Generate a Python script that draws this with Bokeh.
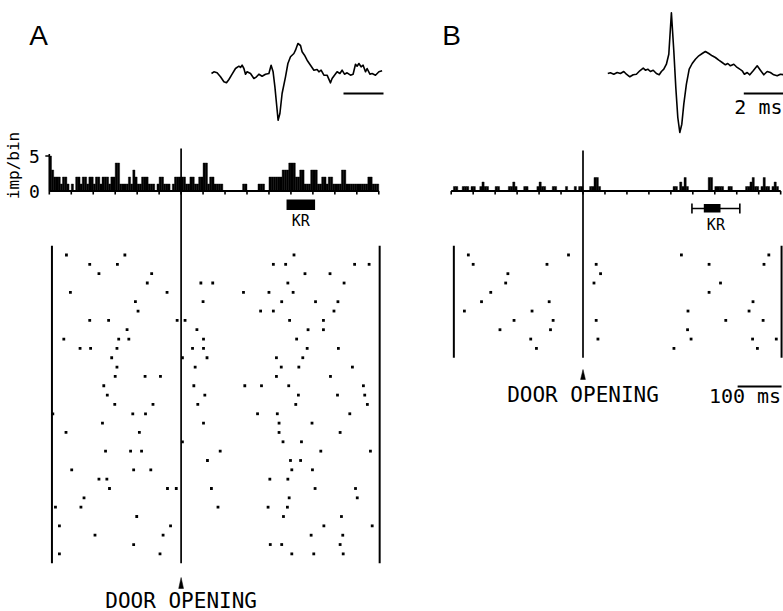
import numpy as np
from bokeh.plotting import figure
from bokeh.models import Range1d
from bokeh.core.properties import value
from bokeh.embed import file_html
from bokeh.resources import INLINE

# ----------------------------- data -----------------------------
BIN_MS = 5
T_START, T_END = -300, 450                 # PSTH window (ms from door opening)
TICKS_MS = list(range(-300, 451, 50))
PSTH_YTICKS = [0, 5]
PSTH_YTICK_LABELS = ["0", "5"]

# impulses per 5-ms bin, panel A
PSTH_A = [5, 3, 2, 2, 2, 1, 2, 2, 1, 0, 1, 0, 2, 2, 1, 2, 2, 1, 2, 2,
          1, 2, 2, 1, 2, 2, 2, 1, 2, 2, 4, 4, 1, 1, 1, 1, 2, 1, 3, 2,
          1, 1, 2, 2, 2, 1, 1, 1, 0, 1, 2, 2, 1, 1, 1, 0, 1, 2, 2, 2,
          2, 2, 1, 1, 2, 2, 1, 1, 2, 2, 4, 4, 1, 2, 2, 1, 1, 1, 1, 0,
          0, 0, 0, 0, 0, 0, 0, 0, 1, 1, 0, 0, 0, 0, 0, 1, 1, 1, 0, 0,
          2, 2, 2, 2, 2, 2, 3, 3, 3, 4, 4, 4, 2, 2, 3, 3, 1, 1, 1, 3,
          3, 3, 1, 1, 2, 2, 1, 2, 2, 1, 1, 1, 1, 3, 3, 1, 1, 1, 1, 1,
          1, 1, 1, 1, 1, 2, 2, 1, 1, 1]
# impulses per 5-ms bin, panel B
PSTH_B = [0, 1, 1, 0, 0, 1, 1, 1, 0, 1, 1, 0, 0, 1, 2, 1, 1, 0, 0, 0,
          1, 1, 0, 0, 0, 0, 1, 1, 2, 1, 0, 0, 0, 1, 1, 0, 0, 0, 0, 1,
          2, 1, 1, 0, 0, 0, 1, 1, 0, 0, 0, 0, 1, 0, 0, 0, 1, 0, 1, 1,
          0, 0, 0, 1, 1, 3, 3, 1, 0, 0, 0, 0, 0, 0, 0, 0, 0, 0, 0, 0,
          0, 0, 0, 0, 0, 0, 0, 0, 0, 0, 0, 0, 0, 0, 0, 0, 0, 0, 0, 0,
          0, 1, 1, 0, 2, 1, 3, 1, 0, 0, 0, 0, 0, 0, 0, 0, 0, 3, 3, 0,
          1, 1, 1, 1, 0, 0, 1, 1, 0, 0, 0, 0, 0, 0, 1, 1, 2, 3, 1, 1,
          0, 1, 3, 1, 1, 0, 1, 2, 1, 0]

# spike times (ms from door opening), one list per trial
RASTER_A = [
    [-261, -128, 257],
    [-208, -145, 210, 238, 395, 428],
    [-187, -67, 282, 339],
    [-77, 45, 72, 243, 371],
    [-252, -32, 142, 200, 255],
    [-104, 50, 229, 306, 357],
    [-98, 181, 210, 348],
    [-208, -165, -9, 9, 247, 324],
    [-123, 36, 289, 324],
    [-267, -142, -119, 51, 263],
    [-230, -206, -146, 26, 51, 287, 358],
    [-158, 3, 59, 217, 277],
    [-146, 32, 228, 268, 390],
    [-150, -82, -47, 217, 340],
    [-176, 29, 145, 183, 245, 415],
    [-168, 54, 267, 356, 418],
    [-151, -64, 38, 261, 424],
    [-292, -110, -81, 174, 219, 384],
    [-179, 51, 223, 298],
    [-262, -95, 223, 362],
    [3, 232, 274],
    [-172, -115, -90, 89, 318, 431],
    [60, 249, 272],
    [-249, -108, -69, 252, 299],
    [-187, -169, 202, 243],
    [-163, -31, -11, 69, 305, 397],
    [-221, 246, 401],
    [-286, -228, 84, 198, 242],
    [-101, 233, 365],
    [-277, -24, 325, 435],
    [-196, -41, 296, 368],
    [-108, 203, 229, 362],
    [-277, -48, 252, 302, 369],
]
RASTER_B = [
    [-261, -33, 224, 423],
    [-250, -82, 30, 287, 412],
    [-171, 40],
    [-176, 25, 313],
    [-210, 287],
    [-231, -77, 387],
    [-270, -116, 239, 378],
    [-157, -68, 30, 325, 410],
    [-189, -74, 238],
    [-119, 34, 246, 386, 440],
    [-106, 207, 397],
]
RASTER_WIN = (-294, 452)                   # trial window marks (ms)

# key release (ms): A = range bar, B = range with box
KR_A = (240, 305)
KR_B_RANGE = (248, 357)
KR_B_BOX = (275, 313)

# averaged spike waveforms: time (ms) and amplitude (arbitrary units)
WAVE_A_T = [0.00, 0.12, 0.28, 0.45, 0.62, 0.75, 0.87, 1.03, 1.20, 1.37,
            1.45, 1.53, 1.62, 1.70, 1.78, 1.95, 2.12, 2.25, 2.37, 2.53,
            2.70, 2.87, 2.98, 3.08, 3.17, 3.25, 3.33, 3.42, 3.53, 3.70,
            3.82, 3.95, 4.12, 4.20, 4.32, 4.45, 4.53, 4.65, 4.78, 4.95,
            5.12, 5.28, 5.37, 5.48, 5.62, 5.78, 5.95, 6.03, 6.15, 6.28,
            6.42, 6.53, 6.65, 6.78, 6.95, 7.08, 7.20, 7.28, 7.37, 7.48,
            7.58, 7.70, 7.78, 7.92, 8.03, 8.20, 8.37, 8.53]
WAVE_A_AMP = [0, 1.7, 0.7, -3.3, -8.3, -9.3, -6, -0.7, 5, 7.3,
              6, 8.3, 5, -0.7, 1.7, 0, -5, -3.3, -0.7, -2.7,
              -0.7, 0, 8.3, 1.7, -13.3, -30, -46.7, -40, -20, -3.3,
              10, 16.7, 20, 23.3, 30, 28, 21.7, 18.3, 13.3, 8.3,
              3.3, 4, 1.7, 3.3, -1.7, -1.7, -9.3, -5, -1.7, 1.7,
              0, 3.3, -0.7, 0.7, -1.7, -0.7, 9.3, 7.3, 10, 6.7,
              8.3, 1.7, 5, -0.7, 0, -1.7, 1.7, 2.7]
WAVE_B_T = [0.00, 0.13, 0.30, 0.47, 0.63, 0.80, 0.93, 1.10, 1.27, 1.43,
            1.60, 1.77, 1.88, 2.00, 2.13, 2.27, 2.43, 2.57, 2.68, 2.80,
            2.93, 3.05, 3.18, 3.30, 3.40, 3.50, 3.60, 3.70, 3.80, 3.93,
            4.07, 4.22, 4.38, 4.55, 4.72, 4.88, 5.05, 5.22, 5.38, 5.55,
            5.72, 5.88, 6.00, 6.13, 6.30, 6.43, 6.60, 6.72, 6.83, 6.97,
            7.10, 7.27, 7.47, 7.63, 7.80, 7.97, 8.13, 8.30, 8.47, 8.63,
            8.80]
WAVE_B_AMP = [0, 0.7, -0.7, 1, 0, 2, -0.7, -3.3, -1.3, -0.7,
              2.7, 5.3, 3.3, 4.3, 2, 3.3, 0, -1.3, 2, 4.3,
              9.3, 19.3, 60.7, 22.7, -14, -44, -59, -50.7, -30.7, -10.7,
              4.3, 10, 14.3, 17.7, 20, 22, 20, 17.7, 16, 13.3,
              11, 8.7, 10, 7.7, 9.3, 6.7, 4.3, 2.7, -0.7, 1,
              -1.3, 2.7, 7.7, 3.3, -1.3, 2, 1, -1.3, -2.3, -0.7,
              -1.3]
WAVE_BAR_MS = 2
TIME_BAR_MS = 100

# ----------------------------- layout -----------------------------
W, H = 783, 611
PX0, PY0 = 0, 0            # page offset of the canvas


def xr(v0, p0, s):
    """x range so that value v0 lands at page pixel p0, s px per unit."""
    return Range1d(v0 + (PX0 - p0) / s, v0 + (PX0 + W - p0) / s)


def yr(v0, p0, s):
    """y range so that value v0 lands at page pixel p0, s px per unit (upward)."""
    return Range1d(v0 + (p0 - (PY0 + H)) / s, v0 + (p0 - PY0) / s)


SA, SB = 0.4393, 0.4393    # px per ms, panels A and B
CA, CB = 7.0, 4.5          # px per impulse
ROW = 9.34                 # px per trial

p = figure(width=W, height=H,
           x_range=Range1d(PX0, PX0 + W), y_range=Range1d(PY0 + H, PY0),
           output_backend="svg", toolbar_location=None, min_border=0,
           x_axis_location=None, y_axis_location=None,
           outline_line_color=None, background_fill_color="white",
           border_fill_color="white")
p.grid.visible = False

p.extra_x_ranges = {
    "tA": xr(0, 180.6, SA),
    "tB": xr(0, 582.5, SB),
    "wA": xr(0, 211.0, 20),
    "wB": xr(0, 607.3, 20),
}
p.extra_y_ranges = {
    "cA": yr(0, 190.5, CA),
    "cB": yr(0, 190.5, CB),
    "trial": yr(0, 254.5, -ROW),
    "amp": yr(0, 73.0, 1),
}

MONO = value("DejaVu Sans Mono")
SANS = value("Liberation Sans")
K = "black"


def label(x, y, s, size, xn="default", yn="default", align="center",
          baseline="middle", angle=0.0, font=MONO):
    p.text(x=[x], y=[y], text=[s], text_font=font, text_font_size=size,
           text_align=align, text_baseline=baseline, angle=angle,
           text_color=K, x_range_name=xn, y_range_name=yn)


# panel letters
label(38, 35, "A", "28px", font=SANS)
label(451, 35, "B", "28px", font=SANS)

# ---------------- waveforms ----------------
for tname, wt, wa, bar0 in (("wA", WAVE_A_T, WAVE_A_AMP, 6.6),
                            ("wB", WAVE_B_T, WAVE_B_AMP, 6.8)):
    p.line(wt, wa, x_range_name=tname, y_range_name="amp",
           line_color=K, line_width=1.6, line_join="round")
    p.line([bar0, bar0 + WAVE_BAR_MS], [-20, -20], x_range_name=tname,
           y_range_name="amp", line_color=K, line_width=1.8)
label(782, 106, f"{WAVE_BAR_MS} ms", "20px", align="right")

# ---------------- PSTHs ----------------
panels = (
    ("tA", "cA", CA, SA, PSTH_A, RASTER_A),
    ("tB", "cB", CB, SB, PSTH_B, RASTER_B),
)
for tname, cname, cs, ts, counts, raster in panels:
    centers = T_START + BIN_MS * (np.arange(len(counts)) + 0.5)
    p.vbar(x=centers, top=counts, bottom=0, width=BIN_MS,
           x_range_name=tname, y_range_name=cname,
           fill_color=K, line_color=K, line_width=0.4)
    p.line([T_START, T_END], [0, 0], x_range_name=tname, y_range_name=cname,
           line_color=K, line_width=2)
    p.segment(x0=TICKS_MS, y0=[0] * len(TICKS_MS), x1=TICKS_MS,
              y1=[-3.5 / cs] * len(TICKS_MS), x_range_name=tname,
              y_range_name=cname, line_color=K, line_width=1.6)

    # raster
    xs = [t for trial in raster for t in trial]
    ys = [i for i, trial in enumerate(raster) for _ in trial]
    p.scatter(xs, ys, marker="square", size=2.8, x_range_name=tname,
              y_range_name="trial", fill_color=K, line_color=None)
    n = len(raster)
    p.segment(x0=list(RASTER_WIN), y0=[-1, -1], x1=list(RASTER_WIN),
              y1=[n, n], x_range_name=tname, y_range_name="trial",
              line_color=K, line_width=2)

# PSTH A ordinate
p.segment(x0=[T_START, T_START - 4 / SA], y0=[0, 5], x1=[T_START, T_START],
          y1=[5.3, 5], x_range_name="tA", y_range_name="cA",
          line_color=K, line_width=1.6)
p.text(x=[T_START] * 2, y=PSTH_YTICKS, text=PSTH_YTICK_LABELS,
       x_offset=-15, text_font=MONO, text_font_size="18px", text_align="center",
       text_baseline="middle", text_color=K, x_range_name="tA",
       y_range_name="cA")
label(13, 165, "imp/bin", "16px", angle=np.pi / 2)

# door opening lines, arrows and labels
for tname, ts, ytop, ybot, ya0, ya1, ylab in (
        ("tA", SA, 148, 562.7, 588, 577, 600),
        ("tB", SB, 150, 357.2, 379, 369, 394)):
    p.segment(x0=[0], y0=[ytop], x1=[0], y1=[ybot], x_range_name=tname,
              line_color=K, line_width=1.7)
    p.patch([-2.4 / ts, 0, 2.4 / ts], [ya0, ya1, ya0], x_range_name=tname,
            fill_color=K, line_color=K, line_width=0.5)
    label(0, ylab, "DOOR OPENING", "21px", xn=tname)

# KR markers
p.quad(left=[KR_A[0]], right=[KR_A[1]], top=[199], bottom=[209.5],
       x_range_name="tA", fill_color=K, line_color=None)
label(sum(KR_A) / 2, 220.5, "KR", "15px", xn="tA")

p.segment(x0=[KR_B_RANGE[0], KR_B_RANGE[0], KR_B_RANGE[1]],
          y0=[208, 203, 203], x1=[KR_B_RANGE[1], KR_B_RANGE[0], KR_B_RANGE[1]],
          y1=[208, 213, 213], x_range_name="tB", line_color=K, line_width=1.6)
p.quad(left=[KR_B_BOX[0]], right=[KR_B_BOX[1]], top=[203.5], bottom=[212],
       x_range_name="tB", fill_color=K, line_color=None)
label(sum(KR_B_RANGE) / 2, 224.5, "KR", "15px", xn="tB")

# 100 ms time bar (panel B)
bar_end = 452
p.line([bar_end - TIME_BAR_MS, bar_end], [386, 386], x_range_name="tB",
       line_color=K, line_width=1.8)
label(bar_end - 1, 395, f"{TIME_BAR_MS} ms", "20px", xn="tB", align="right")

open("out.html", "w").write(file_html(p, INLINE))
